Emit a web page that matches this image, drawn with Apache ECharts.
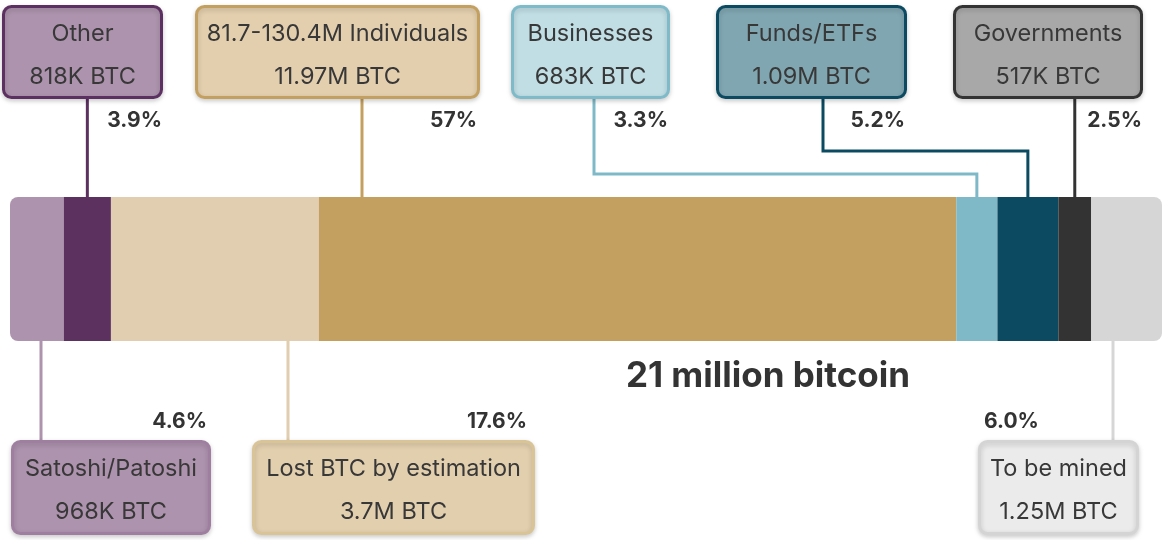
<!DOCTYPE html>
<html>
<head>
<meta charset="utf-8">
<script src="https://cdn.jsdelivr.net/npm/echarts@6/dist/echarts.min.js"></script>
<style>
  html, body { margin: 0; padding: 0; background: #fff; }
  #chart { width: 1163px; height: 540px; }
</style>
</head>
<body>
<div id="chart"></div>
<script>
// holders of the 21M supply, in bar order (left to right)
const categories = ['Satoshi/Patoshi', 'Other', 'Lost BTC by estimation', '81.7-130.4M Individuals',
  'Businesses', 'Funds/ETFs', 'Governments', 'To be mined']
// segment widths, in million BTC
const barValues = [0.98, 0.86, 3.79, 11.62, 0.75, 1.11, 0.60, 1.29]
const btcLabels = ['968K BTC', '818K BTC', '3.7M BTC', '11.97M BTC', '683K BTC', '1.09M BTC', '517K BTC', '1.25M BTC']
const percentLabels = ['4.6%', '3.9%', '17.6%', '57%', '3.3%', '5.2%', '2.5%', '6.0%']
const totalLabel = '21 million bitcoin'

const barColors = ['#ad93ad', '#5c3160', '#e1cdb0', '#c4a060', '#7fb9c8', '#0b4a60', '#333333', '#d6d6d6']
const boxFill = ['#ae93ae', '#ad93ad', '#e2cfae', '#e3cfae', '#c1dee5', '#80a6b1', '#a8a8a8', '#ebebeb']
const boxStroke = ['#9e7f9f', '#5c3060', '#d9c497', '#c4a060', '#7fbac8', '#0b4a60', '#333333', '#d4d4d4']

// box placement: outer rect, where the connector leaves the box, optional elbow, percent anchor
const layout = [
  { x: 11, y: 440, w: 200, h: 95, lineX: 41, pctX: 207, pct: 'right' },
  { x: 2, y: 5, w: 161, h: 94, lineX: 87, pctX: 162, pct: 'right', toMid: true },
  { x: 252, y: 440, w: 283, h: 95, lineX: 288, pctX: 527, pct: 'right' },
  { x: 195, y: 5, w: 285, h: 94, lineX: 362, pctX: 477, pct: 'right' },
  { x: 511, y: 5, w: 159, h: 94, lineX: 594, pctX: 668, pct: 'right', elbowY: 174, toMid: true },
  { x: 716, y: 5, w: 191, h: 94, lineX: 823, pctX: 905, pct: 'right', elbowY: 151, toMid: true },
  { x: 953, y: 5, w: 190, h: 94, lineX: 1074, pctX: 1142, pct: 'right', toMid: true },
  { x: 978, y: 440, w: 161, h: 95, lineX: 1113, pctX: 984, pct: 'left' }
]

const BAR_TOP = 197
const BAR_H = 144
const FONT = 'Inter, "Noto Sans", sans-serif'

const chart = echarts.init(document.getElementById('chart'))

const series = categories.map((name, i) => ({
  name,
  type: 'bar',
  stack: 'total',
  barWidth: BAR_H,
  silent: true,
  itemStyle: {
    color: barColors[i],
    borderRadius: i === 0 ? [8, 0, 0, 8] : (i === categories.length - 1 ? [0, 8, 8, 0] : 0)
  },
  data: [barValues[i]]
}))

chart.setOption({
  animation: false,
  grid: { left: 10, right: 1, top: BAR_TOP, height: BAR_H },
  xAxis: { type: 'value', min: 0, max: 21, show: false },
  yAxis: { type: 'category', data: ['BTC'], show: false },
  series
})

// midpoint of each segment in pixels, via the axis scale
let acc = 0
const mids = barValues.map(v => {
  const m = acc + v / 2
  acc += v
  return chart.convertToPixel({ xAxisIndex: 0 }, m)
})

const graphic = []
layout.forEach((b, i) => {
  const top = b.y < BAR_TOP
  const lw = 3
  // connector
  let pts
  if (top) {
    const endX = b.toMid ? mids[i] : b.lineX
    if (b.elbowY) {
      pts = [[b.lineX, b.y + b.h], [b.lineX, b.elbowY], [endX, b.elbowY], [endX, BAR_TOP]]
    } else {
      pts = [[endX, b.y + b.h], [endX, BAR_TOP]]
    }
  } else {
    pts = [[b.lineX, BAR_TOP + BAR_H], [b.lineX, b.y]]
  }
  graphic.push({
    type: 'polyline',
    z: 1,
    shape: { points: pts },
    style: { stroke: barColors[i], lineWidth: lw, fill: null }
  })
  // box
  graphic.push({
    type: 'rect',
    z: 2,
    shape: { x: b.x + lw / 2, y: b.y + lw / 2, width: b.w - lw, height: b.h - lw, r: 8 },
    style: {
      fill: boxFill[i], stroke: boxStroke[i], lineWidth: lw,
      shadowBlur: 5, shadowOffsetY: 2, shadowColor: 'rgba(0,0,0,0.18)'
    }
  })
  const cx = b.x + b.w / 2
  graphic.push({
    type: 'text', z: 3,
    style: { text: categories[i], x: cx, y: b.y + 29, align: 'center', verticalAlign: 'middle',
      fontSize: 23.5, fontFamily: FONT, fill: '#383838' }
  })
  graphic.push({
    type: 'text', z: 3,
    style: { text: btcLabels[i], x: cx, y: b.y + 72, align: 'center', verticalAlign: 'middle',
      fontSize: 23.5, fontFamily: FONT, fill: '#383838' }
  })
  // percentage
  graphic.push({
    type: 'text', z: 3,
    style: {
      text: percentLabels[i],
      x: b.pctX,
      y: top ? 121 : 422,
      align: b.pct, verticalAlign: 'middle',
      fontSize: 21, fontWeight: 'bold', fontFamily: FONT, fill: '#333'
    }
  })
})

graphic.push({
  type: 'text', z: 3,
  style: { text: totalLabel, x: 768, y: 376, align: 'center', verticalAlign: 'middle',
    fontSize: 35, fontWeight: 'bold', fontFamily: FONT, fill: '#333' }
})

chart.setOption({ graphic })
</script>
</body>
</html>
